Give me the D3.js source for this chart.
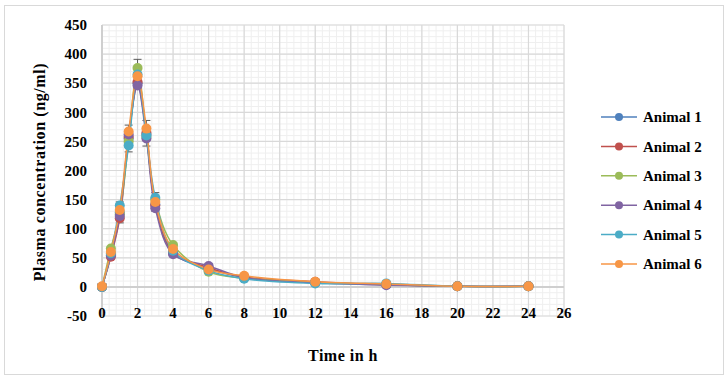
<!DOCTYPE html>
<html><head><meta charset="utf-8">
<script src="https://cdn.jsdelivr.net/npm/d3@7"></script>
<style>body{margin:0;background:#fff}svg{display:block}</style>
</head><body>
<script>
const times = [0, 0.5, 1, 1.5, 2, 2.5, 3, 4, 6, 8, 12, 16, 20, 24];
const seriesNames = ["Animal 1","Animal 2","Animal 3","Animal 4","Animal 5","Animal 6"];
const animal1 = [0, 55, 128, 255, 350, 262, 142, 58, 32, 16, 7, 4, 1, 1];
const animal2 = [0, 52, 118, 258, 352, 265, 140, 60, 33, 17, 9, 4, 1, 1];
const animal3 = [0, 66, 125, 250, 376, 258, 150, 72, 26, 15, 8, 4, 1, 1];
const animal4 = [0, 54, 122, 262, 346, 255, 135, 56, 36, 16, 7, 3, 1, 1];
const animal5 = [0, 58, 140, 243, 365, 260, 153, 62, 28, 14, 6, 6, 1, 1];
const animal6 = [1, 60, 132, 267, 362, 272, 146, 65, 30, 19, 9, 5, 1, 1];
const errLow  = [0, 48, 110, 232, 340, 242, 130, 52, 24, 12, 4, 1, 0, 0];
const errHigh = [2, 68, 146, 278, 391, 286, 162, 76, 40, 22, 11, 8, 2, 2];
const colors = ["#4F81BD","#C0504D","#9BBB59","#8064A2","#4BACC6","#F79646"];
const xTicks = d3.range(0, 27, 2);
const yTicks = d3.range(-50, 451, 50);

const allSeries = [animal1, animal2, animal3, animal4, animal5, animal6];
const W = 727, H = 379;
const svg = d3.select("body").append("svg").attr("width", W).attr("height", H);
const font = "'Liberation Serif','Times New Roman',serif";

svg.append("rect").attr("x",4.5).attr("y",5.5).attr("width",719).attr("height",369)
  .attr("fill","#fff").attr("stroke","#d9d9d9").attr("stroke-width",1);

const x = d3.scaleLinear().domain([0, 26]).range([102, 564]);
const y = d3.scaleLinear().domain([-50, 450]).range([316, 25]);

const g = svg.append("g");
// minor grid
g.selectAll(".mx").data(d3.range(0, 26.01, 0.4)).join("line")
  .attr("x1", d=>x(d)).attr("x2", d=>x(d)).attr("y1", y(-50)).attr("y2", y(450))
  .attr("stroke","#efefef").attr("stroke-width",1);
g.selectAll(".my").data(d3.range(-50, 450.1, 10)).join("line")
  .attr("y1", d=>y(d)).attr("y2", d=>y(d)).attr("x1", x(0)).attr("x2", x(26))
  .attr("stroke","#efefef").attr("stroke-width",1);
// major grid
g.selectAll(".Mx").data(xTicks).join("line")
  .attr("x1", d=>x(d)).attr("x2", d=>x(d)).attr("y1", y(-50)).attr("y2", y(450))
  .attr("stroke","#d9d9d9").attr("stroke-width",1.2);
g.selectAll(".My").data(yTicks).join("line")
  .attr("y1", d=>y(d)).attr("y2", d=>y(d)).attr("x1", x(0)).attr("x2", x(26))
  .attr("stroke","#d9d9d9").attr("stroke-width",1.2);
// axis lines
g.append("line").attr("x1",x(0)).attr("x2",x(26)).attr("y1",y(0)).attr("y2",y(0))
  .attr("stroke","#cfcfcf").attr("stroke-width",2);
g.append("line").attr("x1",x(0)).attr("x2",x(0)).attr("y1",y(-50)).attr("y2",y(450))
  .attr("stroke","#cfcfcf").attr("stroke-width",2);

// tick labels
svg.selectAll(".yl").data(yTicks).join("text")
  .attr("x", 87).attr("y", d=>y(d)).attr("dy","0.35em").attr("text-anchor","end")
  .attr("font-family",font).attr("font-weight","bold").attr("font-size","15px").text(d=>d);
svg.selectAll(".xl").data(xTicks).join("text")
  .attr("x", d=>x(d)).attr("y", 313).attr("dy","0.35em").attr("text-anchor","middle")
  .attr("font-family",font).attr("font-weight","bold").attr("font-size","15px").text(d=>d);

// axis titles
svg.append("text").attr("transform","translate(45,172) rotate(-90)").attr("text-anchor","middle")
  .attr("font-family",font).attr("font-weight","bold").attr("font-size","16px")
  .attr("letter-spacing","0.6px").text("Plasma concentration (ng/ml)");
svg.append("text").attr("x",343).attr("y",355).attr("dy","0.35em").attr("text-anchor","middle")
  .attr("font-family",font).attr("font-weight","bold").attr("font-size","16px")
  .attr("letter-spacing","0.5px").text("Time in h");

// error bars
const eb = svg.append("g").attr("stroke","#595959").attr("stroke-width",1);
times.forEach((t,i)=>{
  eb.append("line").attr("x1",x(t)).attr("x2",x(t)).attr("y1",y(errLow[i])).attr("y2",y(errHigh[i]));
  [errLow[i], errHigh[i]].forEach(v=>{
    eb.append("line").attr("x1",x(t)-4).attr("x2",x(t)+4).attr("y1",y(v)).attr("y2",y(v));
  });
});

// series
const line = d3.line().x((d,i)=>x(times[i])).y(d=>y(d)).curve(d3.curveCatmullRom.alpha(0.5));
allSeries.forEach((s,k)=>{
  svg.append("path").attr("d", line(s)).attr("fill","none").attr("stroke",colors[k]).attr("stroke-width",1.5);
});
allSeries.forEach((s,k)=>{
  svg.append("g").selectAll("circle").data(s).join("circle")
    .attr("cx",(d,i)=>x(times[i])).attr("cy",d=>y(d)).attr("r",5).attr("fill",colors[k]);
});

// legend
const lg = svg.append("g");
seriesNames.forEach((n,k)=>{
  const yy = 117 + k*29.4;
  lg.append("line").attr("x1",601).attr("x2",637).attr("y1",yy).attr("y2",yy)
    .attr("stroke",colors[k]).attr("stroke-width",1.5);
  lg.append("circle").attr("cx",619).attr("cy",yy).attr("r",4).attr("fill",colors[k]);
  lg.append("text").attr("x",643).attr("y",yy).attr("dy","0.35em")
    .attr("font-family",font).attr("font-weight","bold").attr("font-size","15px").text(n);
});
</script>
</body></html>
